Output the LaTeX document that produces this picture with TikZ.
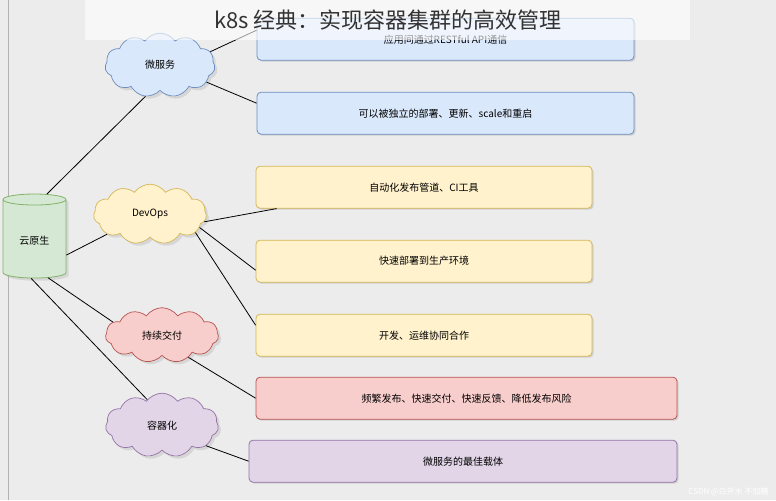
\documentclass[tikz,border=0pt]{standalone}
\usepackage{fontspec}
\setmainfont{Noto Sans CJK SC}
\usetikzlibrary{shapes.symbols,shapes.geometric,shadows}
\definecolor{bg}{HTML}{ECECEC}
\definecolor{bfill}{HTML}{DAE8FC}\definecolor{bdraw}{HTML}{6C8EBF}
\definecolor{yfill}{HTML}{FFF2CC}\definecolor{ydraw}{HTML}{D6B656}
\definecolor{rfill}{HTML}{F8CECC}\definecolor{rdraw}{HTML}{B85450}
\definecolor{pfill}{HTML}{E1D5E7}\definecolor{pdraw}{HTML}{9673A6}
\definecolor{gfill}{HTML}{D5E8D4}\definecolor{gdraw}{HTML}{82B366}
\begin{document}
\begin{tikzpicture}[x=1pt,y=-1pt,
  box/.style={draw=#1draw, fill=#1fill, rounded corners=4pt, line width=0.8pt, drop shadow={opacity=0.25,shadow xshift=1.5pt,shadow yshift=-1.5pt}, minimum height=42pt, font=\fontsize{10}{12}\selectfont},
  cl/.style={cloud, cloud puffs=11, cloud puff arc=110, aspect=1.7, draw=#1draw, fill=#1fill, line width=0.7pt, inner sep=0pt, drop shadow={opacity=0.2}, font=\fontsize{10}{12}\selectfont},
  ln/.style={line width=0.8pt, black}]
\fill[bg] (0,0) rectangle (776,500);
\draw[gray!60] (8,0) -- (8,500);
% boxes
\node[box=b, minimum width=377pt] (b1) at (445.5,39) {应用间通过RESTful API通信};
\node[box=b, minimum width=377pt] (b2) at (445.5,113) {可以被独立的部署、更新、scale和重启};
\node[box=y, minimum width=336pt] (y1) at (424,187) {自动化发布管道、CI工具};
\node[box=y, minimum width=336pt] (y2) at (424,261) {快速部署到生产环境};
\node[box=y, minimum width=336pt] (y3) at (424,335) {开发、运维协同合作};
\node[box=r, minimum width=421pt] (r1) at (466.5,398) {频繁发布、快速交付、快速反馈、降低发布风险};
\node[box=p, minimum width=428pt] (p1) at (463,461) {微服务的最佳载体};
% clouds
\node[cl=b, minimum width=110pt, minimum height=64pt] (ms) at (160,65) {微服务};
\node[cl=y, minimum width=113pt, minimum height=60pt] (dv) at (150,214) {DevOps};
\node[cl=r, minimum width=113pt, minimum height=55pt] (cd) at (162,335) {持续交付};
\node[cl=p, minimum width=113pt, minimum height=64pt] (ct) at (162,425) {容器化};
% cylinder
\node[cylinder, shape border rotate=90, aspect=0.3, draw=gdraw, fill=gfill, line width=0.8pt, minimum width=63pt, minimum height=84pt, font=\fontsize{10}{12}\selectfont, drop shadow={opacity=0.2}] (cy) at (34.5,240) {\raisebox{-10pt}{云原生}};
% connectors
\draw[ln] (cy.75) -- (ms.-115);
\draw[ln] (cy.-25) -- (dv.-155);
\draw[ln] (cy.-70) -- (cd.165);
\draw[ln] (cy.-95) -- (ct.120);
\draw[ln] (ms.15) -- ([yshift=9pt]b1.west);
\draw[ln] (ms.-20) -- ([yshift=10pt]b2.west);
\draw[ln] (dv.-8) -- ([xshift=21pt]y1.south west);
\draw[ln] (dv.-15) -- ([yshift=-9pt]y2.west);
\draw[ln] (dv.-22) -- ([yshift=10pt]y3.west);
\draw[ln] (cd.-40) -- (r1.west);
\draw[ln] (ct.-25) -- (p1.west);
% title banner
\fill[white, opacity=0.6] (85,0) rectangle (690,40);
\node[font=\fontsize{22}{26}\selectfont, text=black!80] (title) at (388,20) {k8s 经典：实现容器集群的高效管理};
\node[font=\fontsize{8}{9}\selectfont, text=white, anchor=east] (wm) at (772,492) {CSDN @白开水~不加糖};
\end{tikzpicture}
\end{document}
